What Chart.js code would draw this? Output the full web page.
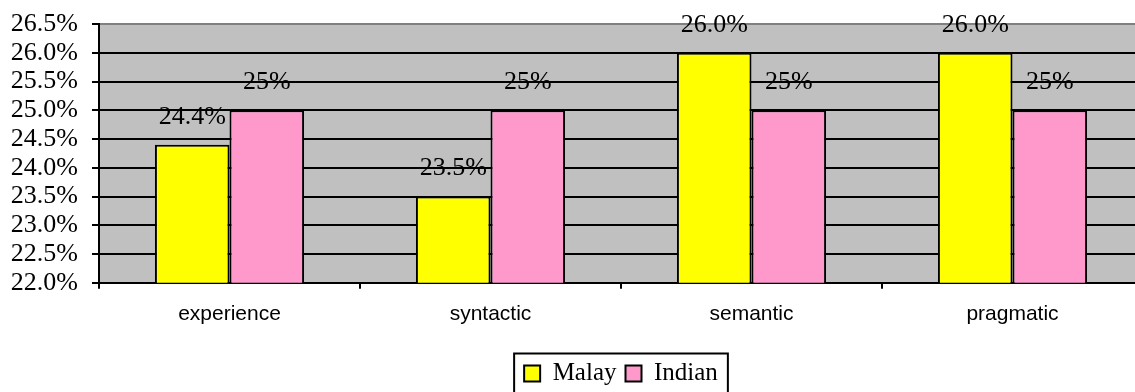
<!DOCTYPE html>
<html>
<head>
<meta charset="utf-8">
<script src="https://cdn.jsdelivr.net/npm/chart.js@4"></script>
<style>
    html, body { margin: 0; padding: 0; background: #fff; overflow: hidden; }
    #wrap { width: 1143px; height: 396px; position: relative; }
</style>
</head>
<body>
<div id="wrap"><canvas id="barChart"></canvas></div>
<script>
const categories = ['experience', 'syntactic', 'semantic', 'pragmatic'];
const malayValues = [24.4, 23.5, 26.0, 26.0];
const indianValues = [25, 25, 25, 25];
const malayLabels = ['24.4%', '23.5%', '26.0%', '26.0%'];
const indianLabels = ['25%', '25%', '25%', '25%'];
const yMin = 22.0;
const yMax = 26.5;
const yStep = 0.5;

const serif = "'Liberation Serif', 'Times New Roman', serif";
const sans = "'Liberation Sans', Arial, sans-serif";

// grey plot area
const plotBackground = {
    id: 'plotBackground',
    beforeDraw(chart) {
        const a = chart.chartArea;
        const ctx = chart.ctx;
        ctx.save();
        ctx.fillStyle = '#C0C0C0';
        ctx.fillRect(a.left, a.top, a.right - a.left, a.bottom - a.top);
        ctx.restore();
    }
};

// value labels above the bars
const barLabels = {
    id: 'barLabels',
    afterDatasetsDraw(chart) {
        const ctx = chart.ctx;
        const texts = [malayLabels, indianLabels];
        ctx.save();
        ctx.font = '26px ' + serif;
        ctx.fillStyle = '#000';
        ctx.textAlign = 'center';
        ctx.textBaseline = 'middle';
        chart.data.datasets.forEach((ds, i) => {
            chart.getDatasetMeta(i).data.forEach((bar, j) => {
                ctx.fillText(texts[i][j], bar.x, bar.y - 28);
            });
        });
        ctx.restore();
    }
};

// frame round the legend
const legendFrame = {
    id: 'legendFrame',
    afterDraw(chart) {
        const boxes = chart.legend && chart.legend.legendHitBoxes;
        if (!boxes || !boxes.length) return;
        const left = Math.min(...boxes.map(b => b.left));
        const right = Math.max(...boxes.map(b => b.left + b.width));
        const mid = boxes[0].top + boxes[0].height / 2;
        const ctx = chart.ctx;
        ctx.save();
        ctx.strokeStyle = '#000';
        ctx.lineWidth = 2;
        ctx.strokeRect(left - 10, mid - 20, right - left + 20, 45);
        ctx.restore();
    }
};

const ctx = document.getElementById('barChart').getContext('2d');
new Chart(ctx, {
    type: 'bar',
    data: {
        labels: categories,
        datasets: [
            { label: 'Malay', data: malayValues, backgroundColor: '#FFFF00', borderColor: '#000', borderWidth: 2 },
            { label: 'Indian', data: indianValues, backgroundColor: '#FF99CC', borderColor: '#000', borderWidth: 2 }
        ]
    },
    options: {
        responsive: true,
        maintainAspectRatio: false,
        animation: false,
        categoryPercentage: 2 / 3.5,
        barPercentage: 1,
        layout: { padding: { top: 24, right: 0, bottom: 0, left: 0 } },
        plugins: {
            legend: {
                position: 'bottom',
                fullSize: false,
                labels: {
                    font: { family: serif, size: 25 },
                    color: '#000',
                    boxWidth: 16,
                    boxHeight: 16,
                    padding: 9
                }
            },
            tooltip: { enabled: false }
        },
        scales: {
            x: {
                grid: { offset: true, drawOnChartArea: false, color: '#000', lineWidth: 2, tickLength: 6 },
                border: { color: '#000', width: 2 },
                ticks: { font: { family: sans, size: 21 }, color: '#000', padding: 13 },
                afterFit(scale) { scale.height += 12; }
            },
            y: {
                min: yMin,
                max: yMax,
                grid: {
                    color: c => (c.tick && c.tick.value === yMax ? '#808080' : '#000'),
                    tickColor: '#000',
                    lineWidth: 2,
                    tickLength: 7
                },
                border: { color: '#000', width: 2 },
                ticks: {
                    stepSize: yStep,
                    autoSkip: false,
                    font: { family: serif, size: 26 },
                    color: '#000',
                    padding: 14,
                    callback: v => v.toFixed(1) + '%'
                },
                afterFit(scale) {
                    scale.width = 99;
                    scale.paddingTop = 0;
                    scale.paddingBottom = 0;
                }
            }
        }
    },
    plugins: [plotBackground, barLabels, legendFrame]
});
</script>
</body>
</html>
